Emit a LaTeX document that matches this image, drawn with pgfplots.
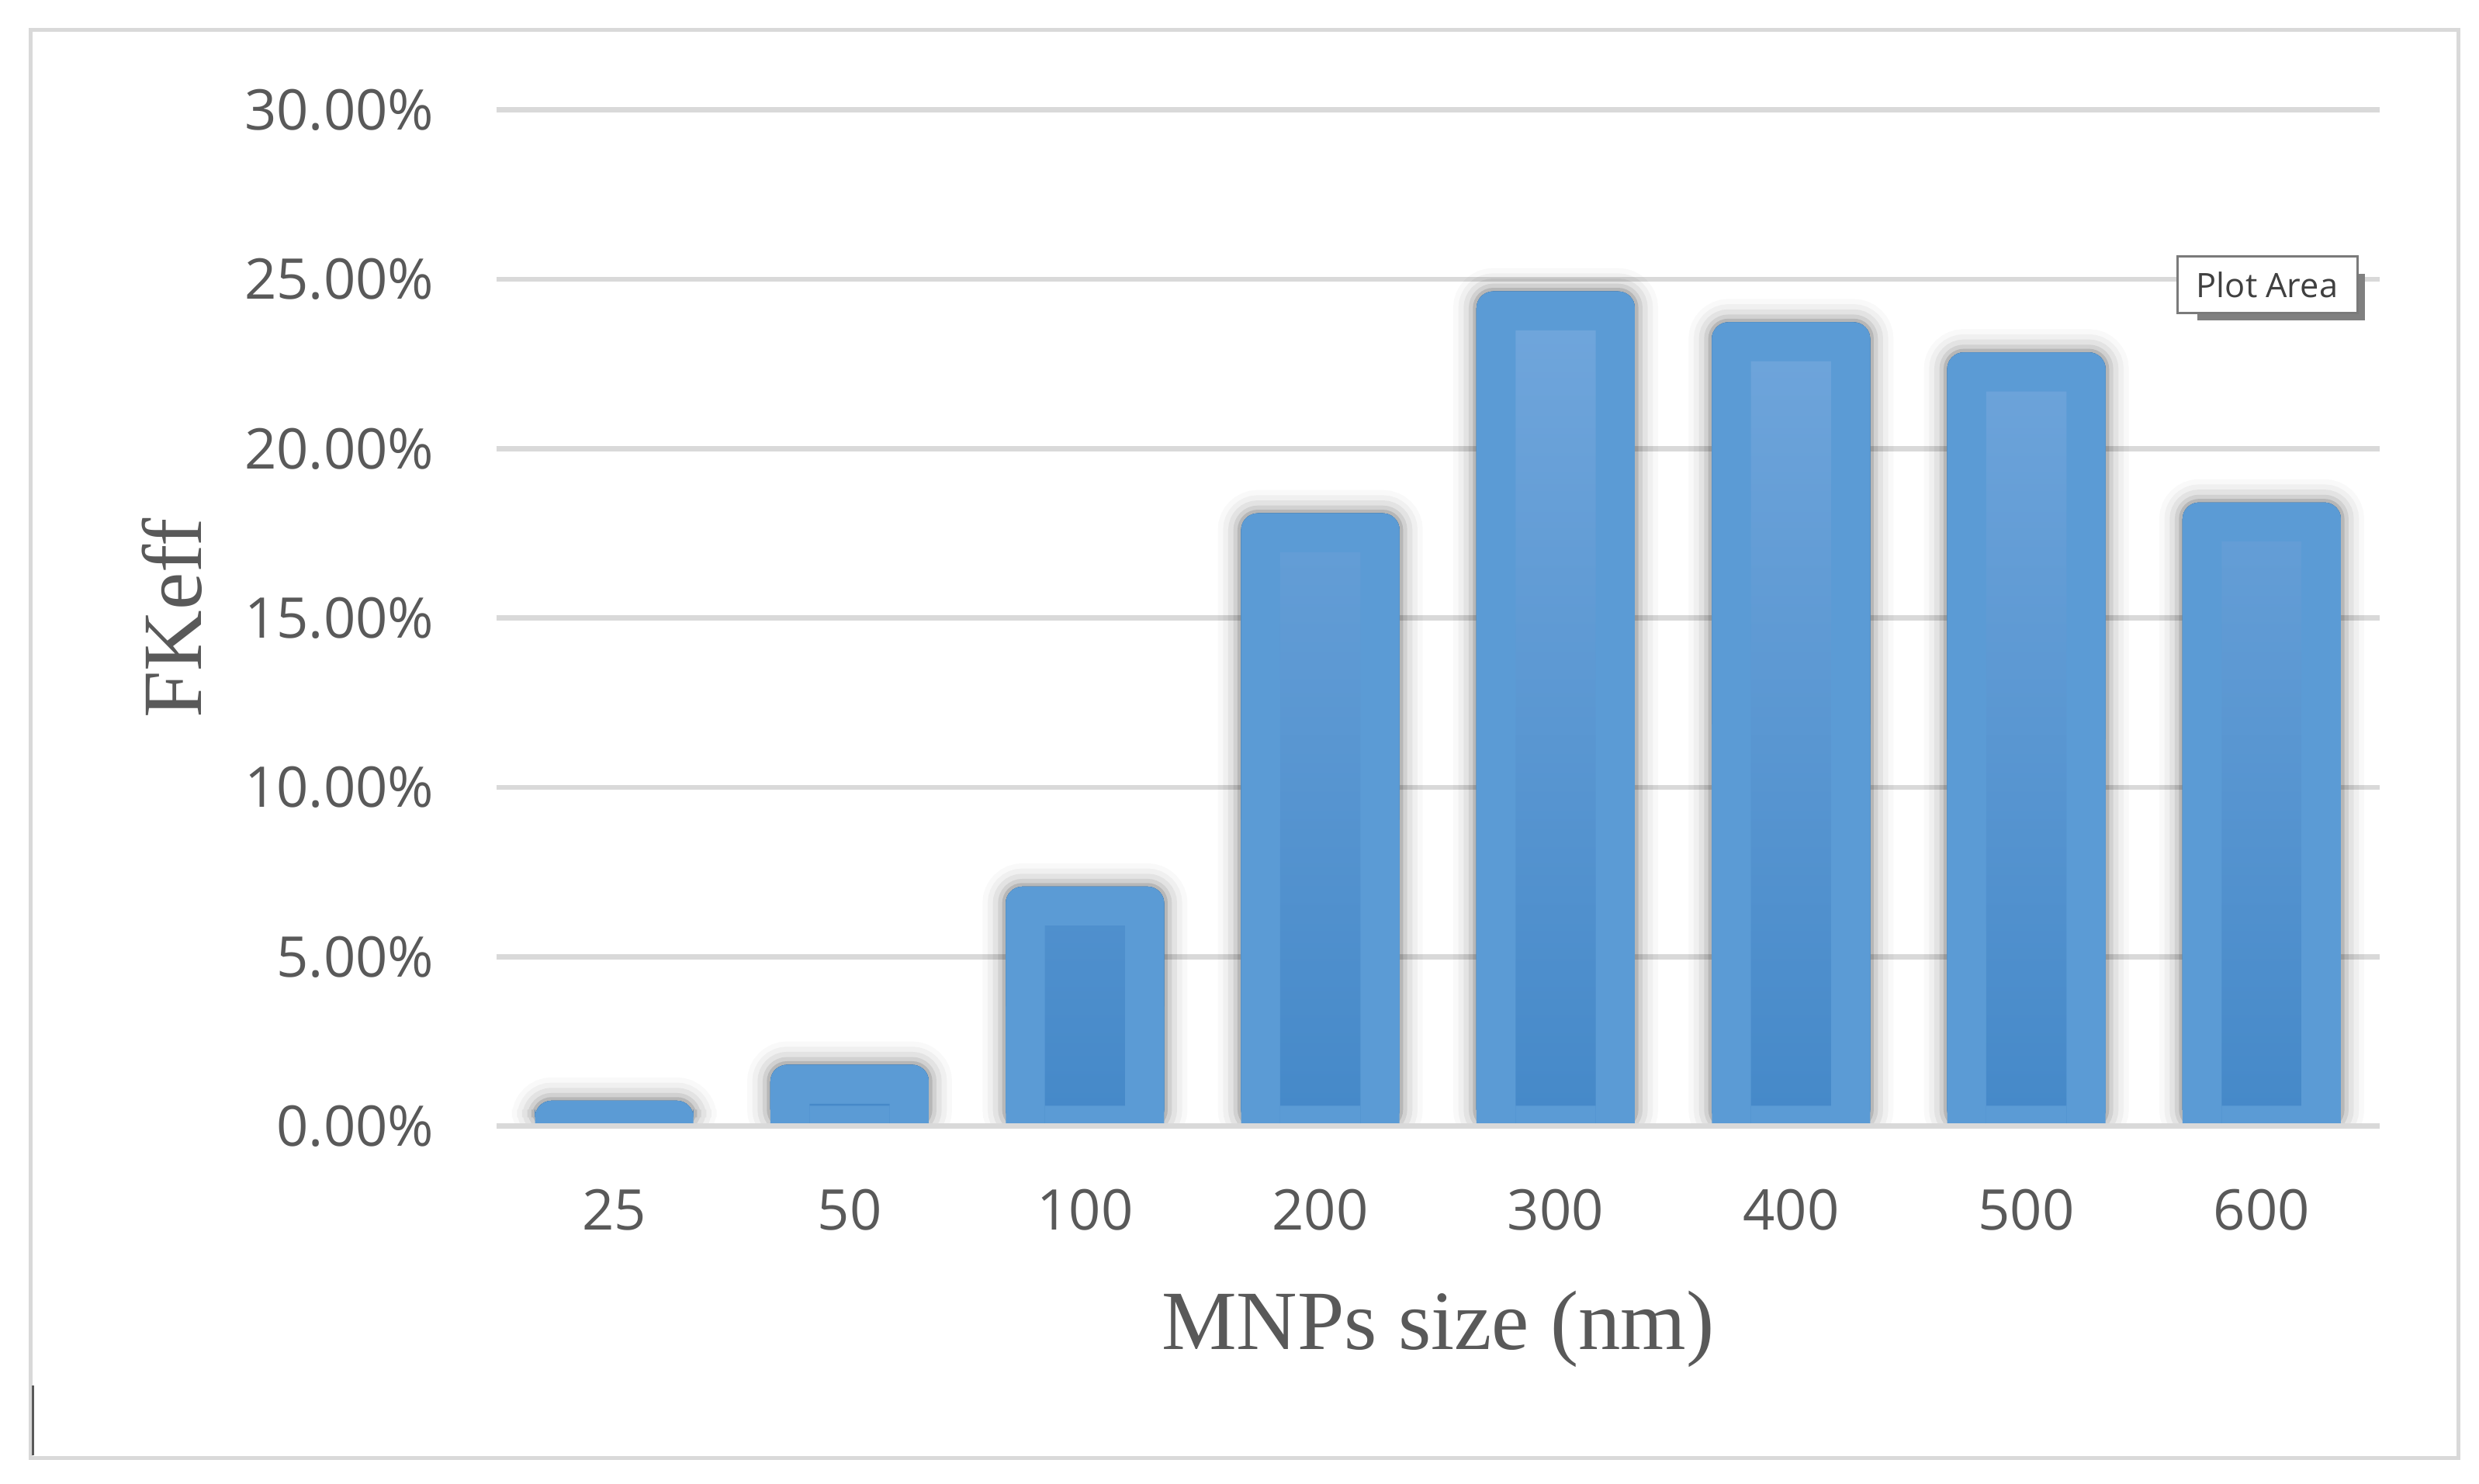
\documentclass[border=0pt]{standalone}
\usepackage{fontspec}
\usepackage{pgfplots}
\usepackage{pgfplotstable}
\pgfplotsset{compat=1.18}
\setmainfont{Liberation Serif}
\newfontfamily\ticksfont{Open Sans}
\definecolor{barblue}{HTML}{5B9BD5}
\definecolor{innertop}{HTML}{6FA5DB}
\definecolor{innerbot}{HTML}{4488C8}
\definecolor{txtgray}{HTML}{595959}
\definecolor{gridgray}{HTML}{D9D9D9}

% FKeff (%) per MNP size
\pgfplotstableread{
x  val
0  0.75
1  1.81
2  7.07
3  18.09
4  24.64
5  23.73
6  22.84
7  18.41
}\fkeff

\begin{document}
\begin{tikzpicture}
\useasboundingbox (-96pt,-69.05pt) rectangle (383.25pt,217.75pt);
\fill[white] (-96pt,-69.05pt) rectangle (383.25pt,217.75pt);
\draw[gridgray, line width=0.75pt] (-90pt,-64.1pt) rectangle (379.2pt,211.9pt);
\draw[txtgray, line width=0.45pt] (-89.6pt,-50.2pt) -- (-89.6pt,-63.6pt);
\begin{axis}[
    at={(0pt,0pt)}, anchor=south west,
    scale only axis,
    width=364pt, height=196.5pt,
    xmin=-0.5, xmax=7.5, ymin=0, ymax=30,
    xtick={0,...,7},
    xticklabels={25,50,100,200,300,400,500,600},
    ytick={0,5,...,30},
    yticklabels={0.00\%,5.00\%,10.00\%,15.00\%,20.00\%,25.00\%,30.00\%},
    axis line style={draw=none},
    major tick length=0pt,
    ymajorgrids,
    grid style={draw=gridgray, line width=1pt},
    tick label style={font=\ticksfont\fontsize{10.85}{12}\selectfont, text=txtgray},
    yticklabel style={inner sep=0pt, xshift=-11.9pt},
    xticklabel style={inner sep=0pt, yshift=-12pt},
    clip mode=individual,
]
% outer bars, rounded tops with a soft glow
\addplot[ybar, bar shift=0pt, bar width=30.6pt, fill=barblue, draw=none, rounded corners=3.2pt,
    preaction={draw=black, draw opacity=0.025, line width=9pt},
    preaction={draw=black, draw opacity=0.035, line width=7pt},
    preaction={draw=black, draw opacity=0.05, line width=5pt},
    preaction={draw=black, draw opacity=0.08, line width=3pt},
    preaction={draw=black, draw opacity=0.12, line width=1.4pt}]
    table[x=x, y=val]{\fkeff};
% square off the lower half
\addplot[ybar, bar shift=0pt, bar width=30.6pt, fill=barblue, draw=none,
    y filter/.expression={y/2}]
    table[x=x, y=val]{\fkeff};
% inner gradient strip
\addplot[ybar, bar shift=0pt, bar width=15.5pt, draw=none, top color=innertop, bottom color=innerbot,
    y filter/.expression={y-1.15}]
    table[x=x, y=val]{\fkeff};
\addplot[ybar, bar shift=0pt, bar width=15.5pt, fill=barblue, draw=none,
    y filter/.expression={min(y,0.6)}]
    table[x=x, y=val]{\fkeff};
\draw[gridgray, line width=1pt] (axis cs:-0.5,0) -- (axis cs:7.5,0);
\end{axis}
\node[anchor=base, text=txtgray, font=\fontsize{16.3}{18}\selectfont, inner sep=0pt]
    at (182pt,-43.1pt) {MNPs size (nm)};
\node[anchor=base, rotate=90, text=txtgray, font=\fontsize{16.3}{18}\selectfont, inner sep=0pt]
    at (-57pt,98.25pt) {FKeff};
% "Plot Area" tooltip
\fill[black!50] (328.8pt,155.8pt) rectangle (361.2pt,164.8pt);
\node[draw=black!52, fill=white, line width=0.45pt, minimum width=34.8pt, minimum height=10.9pt,
    inner sep=0pt, text=black!75, font=\ticksfont\fontsize{6.5}{7}\selectfont]
    at (342.3pt,162.65pt) {Plot Area};
\end{tikzpicture}
\end{document}
